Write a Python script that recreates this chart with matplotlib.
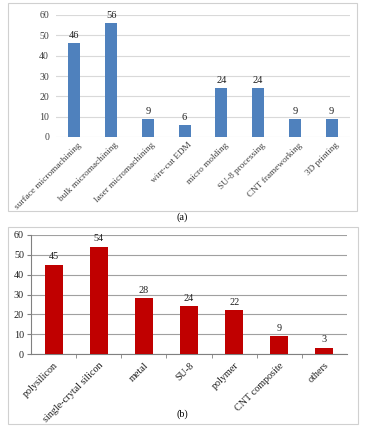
import matplotlib
matplotlib.use("Agg")
import matplotlib.pyplot as plt
import matplotlib.transforms as mtransforms
from matplotlib.patches import Rectangle

# data
proc_labels = ["surface micromachining", "bulk micromachining", "laser micromachining",
               "wire-cut EDM", "micro molding", "SU-8 processing", "CNT frameworking", "3D printing"]
proc_counts = [46, 56, 9, 6, 24, 24, 9, 9]

mat_labels = ["polysilicon", "single-crytal silicon", "metal", "SU-8",
              "polymer", "CNT composite", "others"]
mat_counts = [45, 54, 28, 24, 22, 9, 3]

W, H = 365, 441
plt.rcParams['font.family'] = ['Liberation Serif', 'DejaVu Serif']

fig = plt.figure(figsize=(W / 100, H / 100), dpi=100)


def px_axes(left, top, right, bottom):
    return fig.add_axes([left / W, 1 - bottom / H, (right - left) / W, (bottom - top) / H])


def px_box(left, top, right, bottom):
    fig.patches.append(Rectangle((left / W, 1 - bottom / H), (right - left) / W, (bottom - top) / H,
                                 transform=fig.transFigure, fill=False, ec="#d0d0d0", lw=0.8))


# (a) processes
px_box(8, 3, 357, 211)
ax1 = px_axes(56, 15, 350, 137)
x1 = range(len(proc_labels))
ax1.bar(x1, proc_counts, width=0.32, color="#4f81bd", zorder=3)
for i, v in zip(x1, proc_counts):
    ax1.text(i, v + 1.5, str(v), ha="center", va="bottom", fontsize=7.5, color="#202020")
ax1.set_ylim(0, 60)
ax1.set_xlim(-0.5, len(proc_labels) - 0.5)
ax1.set_yticks(range(0, 61, 10))
ax1.yaxis.grid(True, color="#d9d9d9", lw=0.8, zorder=0)
for s in ax1.spines.values():
    s.set_visible(False)
ax1.tick_params(axis="y", length=0, labelsize=7.1, pad=5, colors="#404040")
ax1.set_xticks(list(x1))
ax1.set_xticklabels(proc_labels, rotation=45, ha="right", rotation_mode="anchor")
ax1.tick_params(axis="x", length=0, labelsize=6.7, pad=3, colors="#404040")
shift = mtransforms.ScaledTranslation(3 / 100, 0, fig.dpi_scale_trans)
for lab in ax1.get_xticklabels():
    lab.set_transform(lab.get_transform() + shift)
fig.text(182 / W, 1 - 217 / H, "(a)", ha="center", va="center", fontsize=7.3)

# (b) materials
px_box(8, 227, 358, 424)
ax2 = px_axes(31, 235, 347, 354)
x2 = range(len(mat_labels))
ax2.bar(x2, mat_counts, width=0.4, color="#c00000", zorder=3)
for i, v in zip(x2, mat_counts):
    ax2.text(i, v + 1.8, str(v), ha="center", va="bottom", fontsize=7.3, color="#202020")
ax2.set_ylim(0, 60)
ax2.set_xlim(-0.5, len(mat_labels) - 0.5)
ax2.set_yticks(range(0, 61, 10))
ax2.yaxis.grid(True, color="#a0a0a0", lw=0.8, zorder=0)
ax2.spines["top"].set_visible(False)
ax2.spines["right"].set_visible(False)
ax2.spines["left"].set_color("#808080")
ax2.spines["bottom"].set_color("#808080")
ax2.tick_params(axis="y", length=3, color="#808080", labelsize=7.3, pad=2, labelcolor="#202020")
ax2.set_xticks([i + 0.5 for i in range(len(mat_labels) - 1)], minor=True)
ax2.tick_params(axis="x", which="minor", length=3, color="#808080")
ax2.set_xticks(list(x2))
ax2.set_xticklabels(mat_labels, rotation=45, ha="right", rotation_mode="anchor")
ax2.tick_params(axis="x", which="major", length=0, labelsize=7.3, pad=5, labelcolor="#202020")
fig.text(182 / W, 1 - 414 / H, "(b)", ha="center", va="center", fontsize=7.3)

fig.savefig("out.png", dpi=100)
